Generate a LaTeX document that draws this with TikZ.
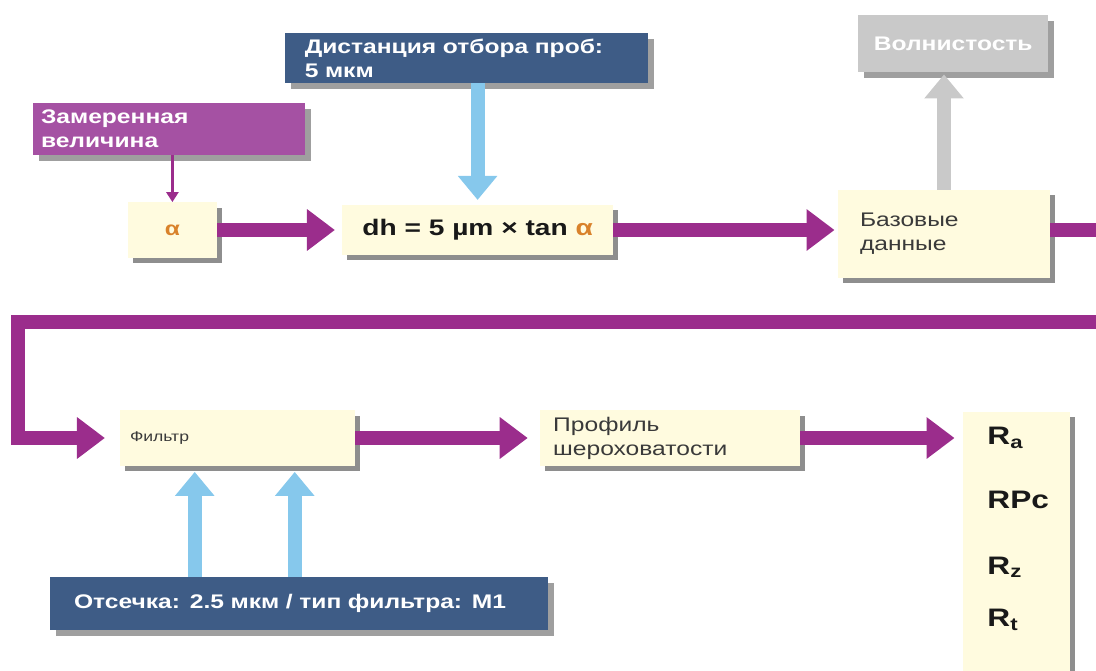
\documentclass[tikz,border=0pt]{standalone}
\usepackage{fontspec}
\setmainfont{Liberation Sans}[FakeStretch=1.25]
\usetikzlibrary{arrows.meta, positioning, shadows}
\definecolor{flowpurple}{HTML}{9B2D8C}
\definecolor{tagpurple}{HTML}{A551A3}
\definecolor{tagblue}{HTML}{3E5C86}
\definecolor{skyblue}{HTML}{86C8EC}
\definecolor{boxcream}{HTML}{FFFBDF}
\definecolor{wavegray}{HTML}{C9C9C9}
\definecolor{shadowgray}{HTML}{8E8E8E}
\definecolor{textgray}{HTML}{3A3A3A}
\definecolor{alphaorange}{HTML}{D9822B}

\begin{document}
\begin{tikzpicture}[
    cream/.style={rectangle, fill=boxcream, text=textgray, inner sep=0pt,
        drop shadow={shadow xshift=0.13cm, shadow yshift=-0.13cm, fill=shadowgray, opacity=1}},
    tag/.style={rectangle, text=white, inner sep=0pt, align=left,
        font=\fontsize{14}{17}\selectfont\bfseries,
        drop shadow={shadow xshift=0.15cm, shadow yshift=-0.15cm, fill=shadowgray!85, opacity=1}},
    param/.style={anchor=west, inner sep=0pt, text=black!90, font=\fontsize{18}{20}\selectfont\bfseries},
    flow/.style={draw=flowpurple, line width=0.35cm, -{Triangle[length=0.7cm, width=1cm]}},
    feed/.style={draw=skyblue, line width=0.35cm, -{Triangle[length=0.6cm, width=0.95cm]}},
    back/.style={draw=wavegray, line width=0.35cm, -{Triangle[length=0.6cm, width=0.95cm]}},
    pointer/.style={draw=flowpurple, line width=2pt, -{Triangle[length=0.25cm, width=0.3cm]}}
]
\clip (0,0) rectangle (27.4,-16.775);

% labels
\node[tag, fill=tagpurple, inner xsep=0.2cm, text width=6.4cm, minimum height=1.3cm] (meas) at (4.225,-3.225) {Замеренная\\величина};
\node[tag, fill=tagblue, inner xsep=0.5cm, text width=8.08cm, minimum height=1.25cm] (dist) at (11.66,-1.45) {Дистанция отбора проб:\\5 мкм};
\node[tag, fill=wavegray, align=center, minimum width=4.75cm, minimum height=1.43cm] (wave) at (23.83,-1.09) {Волнистость};
\node[tag, fill=tagblue, inner xsep=0.6cm, text width=11.25cm, minimum height=1.33cm] (cut) at (7.475,-15.09) {Отсечка: 2.5 мкм / тип фильтра: М1};

% processing
\node[cream, minimum width=2.22cm, minimum height=1.38cm, font=\fontsize{14}{16}\selectfont\bfseries, text=alphaorange] (alpha) at (4.31,-5.75) {α};
\node[cream, minimum width=6.78cm, minimum height=1.25cm, font=\fontsize{16}{18}\selectfont\bfseries, text=black!90] (formula) at (11.94,-5.75) {dh = 5 µm × tan \textcolor{alphaorange}{α}};
\node[cream, inner xsep=0.55cm, text width=4.2cm, minimum height=2.2cm, align=left, font=\fontsize{14}{17}\selectfont] (base) at (23.6,-5.85) {Базовые\\данные};
\node[cream, inner xsep=0.25cm, text width=5.38cm, minimum height=1.38cm, align=left, font=\fontsize{10}{12}\selectfont] (filter) at (5.94,-10.95) {Фильтр};
\node[cream, inner xsep=0.33cm, text width=5.84cm, minimum height=1.38cm, align=left, font=\fontsize{14}{17}\selectfont] (profile) at (16.75,-10.95) {Профиль\\шероховатости};

% results
\node[cream, minimum width=2.68cm, minimum height=7.2cm] (rbox) at (25.41,-13.9) {};
\node[param] (ra) at (24.68,-10.95) {R\textsubscript{a}};
\node[param] (rpc) at (24.68,-12.5) {RPc};
\node[param] (rz) at (24.68,-14.18) {R\textsubscript{z}};
\node[param] (rt) at (24.68,-15.5) {R\textsubscript{t}};

% main flow
\draw[flow, shorten >=0.17cm] (alpha.east) -- (formula.west);
\draw[flow, shorten >=0.08cm] (formula.east) -- (formula.east -| base.west);
\draw[flow, shorten >=0.37cm] (base.east |- formula.east) -- (28,-5.75) -- (28,-8.05) -- (0.45,-8.05) |- (filter.west);
\draw[flow, shorten >=0.3cm] (filter.east) -- (profile.west);
\draw[flow, shorten >=0.2cm] (profile.east) -- (profile.east -| rbox.west);

% inputs
\draw[pointer] (alpha.north |- meas.south) -- (alpha.north);
\draw[feed, shorten >=0.12cm] (formula.north |- dist.south) -- (formula.north);
\draw[feed, shorten >=0.15cm] ([xshift=1.875cm]filter.south west |- cut.north) -- ([xshift=1.875cm]filter.south west);
\draw[feed, shorten >=0.15cm] ([xshift=4.375cm]filter.south west |- cut.north) -- ([xshift=4.375cm]filter.south west);
\draw[back, shorten >=0.05cm] (base.north) -- (base.north |- wave.south);
\end{tikzpicture}
\end{document}
